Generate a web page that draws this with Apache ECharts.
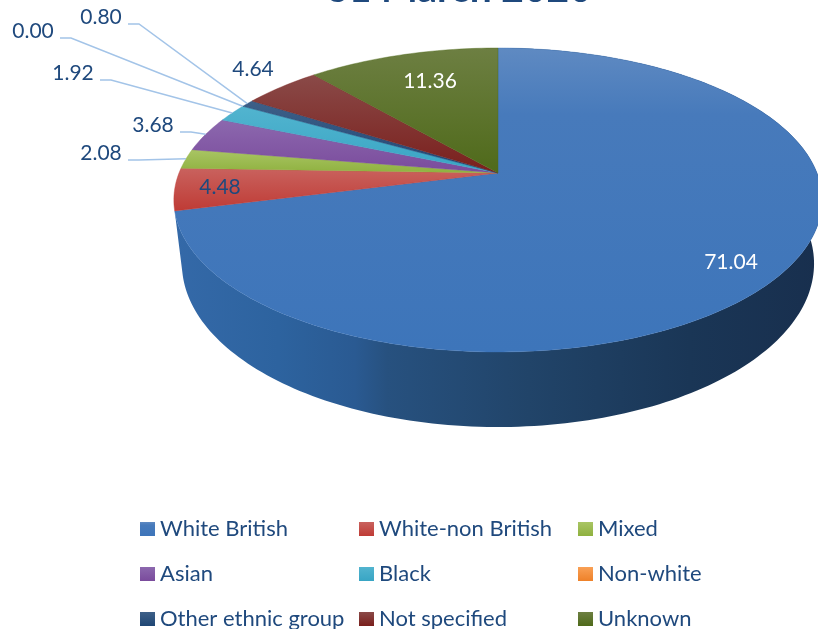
<!DOCTYPE html>
<html>
<head>
<meta charset="utf-8">
<style>html,body{margin:0;padding:0;background:#fff;overflow:hidden}#chart{width:818px;height:629px}</style>
<script src="https://cdn.jsdelivr.net/npm/echarts@6/dist/echarts.min.js"></script>
</head>
<body>
<div id="chart"></div>
<script>
// Ethnic group shares, percent
const categories = ['White British', 'White-non British', 'Mixed', 'Asian', 'Black', 'Non-white', 'Other ethnic group', 'Not specified', 'Unknown'];
const shares = [71.04, 4.48, 2.08, 3.68, 1.92, 0.00, 0.80, 4.64, 11.36];
const topColours = [
  ['#5f8ac2', '#477abb', '#3d75ba'], ['#c9625e', '#bf3b35'], ['#a9c564', '#8fb13f'],
  ['#8c68ae', '#7a4b9c'], ['#52b4cf', '#38a5c4'], ['#f9a055', '#ee8129'],
  ['#3e6088', '#1f4674'], ['#8a4a48', '#7a1f1c'], ['#6d7f42', '#4f6a1a']
];
const legendColumnX = [140, 359, 578];
const legendRowY = [518, 563, 608];

// Projection of the tilted disc: perspective with the hub above the ellipse centre
const hub = { x: 498, y: 173 };
const radiusX = 319, radiusY = 147.2, tilt = 0.1776;
const wallDrop = 61.7, wallShrink = 0.975;
const TEXT = '#1f497d', LEADER = '#a3c4e8';
const labelFont = '21px Lato';

// Value label placement: centre of text, whether it sits on a leader line
const labelPlace = [
  { x: 731, y: 262, fill: '#fff' },
  { x: 220, y: 187, fill: TEXT },
  { x: 101, y: 153, fill: TEXT, leader: true },
  { x: 153, y: 125, fill: TEXT, leader: true },
  { x: 73, y: 73, fill: TEXT, leader: true },
  { x: 33, y: 31, fill: TEXT, leader: true },
  { x: 101, y: 17, fill: TEXT, leader: true },
  { x: 253, y: 69, fill: TEXT },
  { x: 430, y: 81, fill: '#fff' }
];

function rim(pct) {
  const a = pct / 100 * Math.PI * 2;
  const u = Math.sin(a), v = Math.cos(a);
  const s = 1 / (1 + tilt * v);
  return { x: hub.x + radiusX * u * s, y: hub.y - radiusY * v * s, s };
}
function lowerRim(pct) {
  const p = rim(pct);
  return [hub.x + wallShrink * (p.x - hub.x), p.y + wallDrop * p.s];
}
function arc(from, to) {
  const out = [];
  const n = Math.max(2, Math.ceil((to - from) * 3));
  for (let i = 0; i <= n; i++) {
    out.push(from + (to - from) * i / n);
  }
  return out;
}
const starts = [];
shares.reduce((sum, v, i) => { starts[i] = sum; return sum + v; }, 0);

const vertical = (c) => ({
  type: 'linear', x: 0, y: 0, x2: 0, y2: 1,
  colorStops: c.length === 3
    ? [{ offset: 0, color: c[0] }, { offset: 0.22, color: c[1] }, { offset: 1, color: c[2] }]
    : [{ offset: 0, color: c[0] }, { offset: 1, color: c[1] }]
});
// Side wall shading runs left to right across the whole disc
const wallFill = {
  type: 'linear', x: 175, y: 0, x2: 818, y2: 0, global: true,
  colorStops: [
    { offset: 0, color: '#3469a8' }, { offset: 0.16, color: '#2d639f' },
    { offset: 0.28, color: '#2a5a92' }, { offset: 0.33, color: '#27517f' },
    { offset: 0.55, color: '#214469' }, { offset: 0.8, color: '#1a3656' },
    { offset: 1, color: '#182f4e' }
  ]
};

function renderSlice(i, api) {
  const value = api.value(0);
  const from = starts[i], to = from + value;
  const children = [];
  if (value > 0) {
    const steps = arc(from, to);
    const upper = steps.map((p) => { const r = rim(p); return [r.x, r.y]; });
    // Only the big front slice shows any of the side wall
    if (i === 0) {
      children.push({
        type: 'polygon', z2: 1, silent: true,
        shape: { points: upper.concat(steps.slice().reverse().map(lowerRim)) },
        style: { fill: wallFill }
      });
    }
    const edge = topColours[i][topColours[i].length - 1];
    children.push({
      type: 'polygon', z2: 2, silent: true,
      shape: { points: [[hub.x, hub.y]].concat(upper) },
      style: { fill: vertical(topColours[i]), stroke: edge, lineWidth: 0.4 }
    });
  }
  const place = labelPlace[i];
  if (place.leader) {
    const end = rim(from + value / 2);
    const startX = place.x + 27;
    children.push({
      type: 'polyline', z2: 3, silent: true,
      shape: { points: [[startX, place.y + 7], [startX + 11, place.y + 7], [end.x, end.y]] },
      style: { stroke: LEADER, lineWidth: 1.5, fill: null }
    });
  }
  children.push({
    type: 'text', z2: 4, silent: true,
    style: { x: place.x, y: place.y, text: value.toFixed(2), font: labelFont, fill: place.fill, align: 'center', verticalAlign: 'middle' }
  });
  return { type: 'group', children };
}

const chart = echarts.init(document.getElementById('chart'), null, { renderer: 'canvas' });
chart.setOption({
  animation: false,
  backgroundColor: '#fff',
  title: {
    text: '31 March 2020', left: 459, top: -30, textAlign: 'center', padding: 0,
    textStyle: { color: TEXT, fontFamily: 'Lato', fontWeight: 'bold', fontSize: 39 }
  },
  // One legend per entry: three columns and three rows, read across
  legend: categories.map((name, k) => ({
    left: legendColumnX[k % 3], top: legendRowY[Math.floor(k / 3)], padding: 0,
    itemWidth: 15, itemHeight: 14, itemGap: 0, icon: 'rect', selectedMode: false,
    textStyle: { color: TEXT, fontFamily: 'Lato', fontSize: 22 },
    data: [name]
  })),
  series: categories.map((name, i) => ({
    type: 'custom', name, coordinateSystem: 'none', silent: true,
    itemStyle: { color: vertical(topColours[i]) },
    data: [[shares[i]]],
    renderItem: (params, api) => renderSlice(i, api)
  }))
});
</script>
</body>
</html>
